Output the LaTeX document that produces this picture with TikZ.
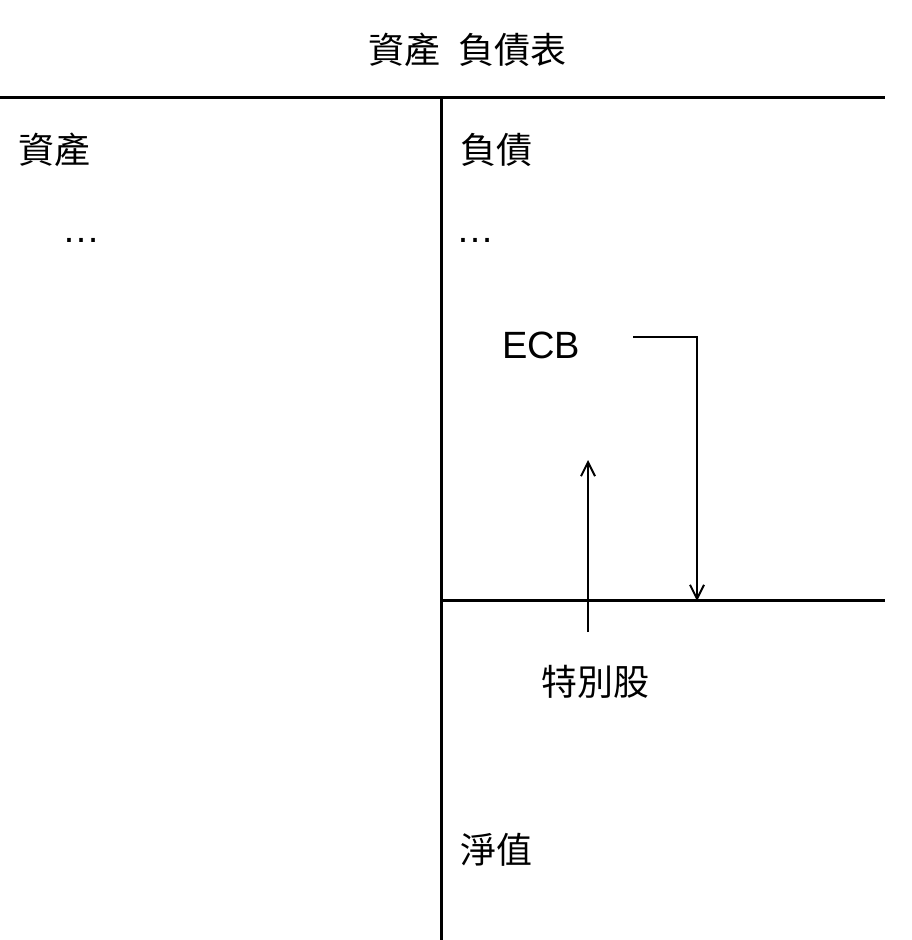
\documentclass[tikz,border=0pt]{standalone}
\usepackage{fontspec}
\setmainfont{Liberation Sans}
\newfontfamily\cjk{Noto Sans CJK TC}
\usetikzlibrary{arrows.meta}
\begin{document}
\begin{tikzpicture}[x=1pt,y=-1pt,
  ln/.style={line width=3pt},
  ar/.style={line width=2.2pt,-{Straight Barb[length=14pt,width=14pt,line width=2pt]}},
  cj/.style={font=\cjk\fontsize{36}{40}\selectfont,inner sep=0pt},
  lt/.style={font=\fontsize{38}{42}\selectfont,inner sep=0pt}]
\useasboundingbox (0,0) rectangle (912,940);
\node[cj] (title) at (467,50) {資產\hspace{0.5em}負債表};
\coordinate (tl) at (0,97); \coordinate (tr) at (885,97);
\coordinate (vt) at (441,97); \coordinate (vb) at (441,940);
\draw[ln] (tl) -- (tr);
\draw[ln] (vt) -- (vb);
\coordinate (ml) at (441,600); \coordinate (mr) at (885,600);
\draw[ln] (ml) -- (mr);
\node[cj,anchor=west] (assets) at (18,150) {資產};
\node[cj,anchor=west] (liab) at (460,150) {負債};
\node[lt,anchor=west] (d1) at (62,240) {…};
\node[lt,anchor=west] (d2) at (456,240) {…};
\node[lt,anchor=west] (ecb) at (502,345) {ECB};
\coordinate (e1) at (633,337); \coordinate (e2) at (697,337); \coordinate (e3) at (697,601);
\draw[ar] (e1) -- (e2) -- (e3);
\node[cj] (pref) at (595,682) {特別股};
\coordinate (u1) at (588,632); \coordinate (u2) at (588,460);
\draw[ar] (u1) -- (u2);
\node[cj,anchor=west] (nw) at (460,850) {淨值};
\end{tikzpicture}
\end{document}
